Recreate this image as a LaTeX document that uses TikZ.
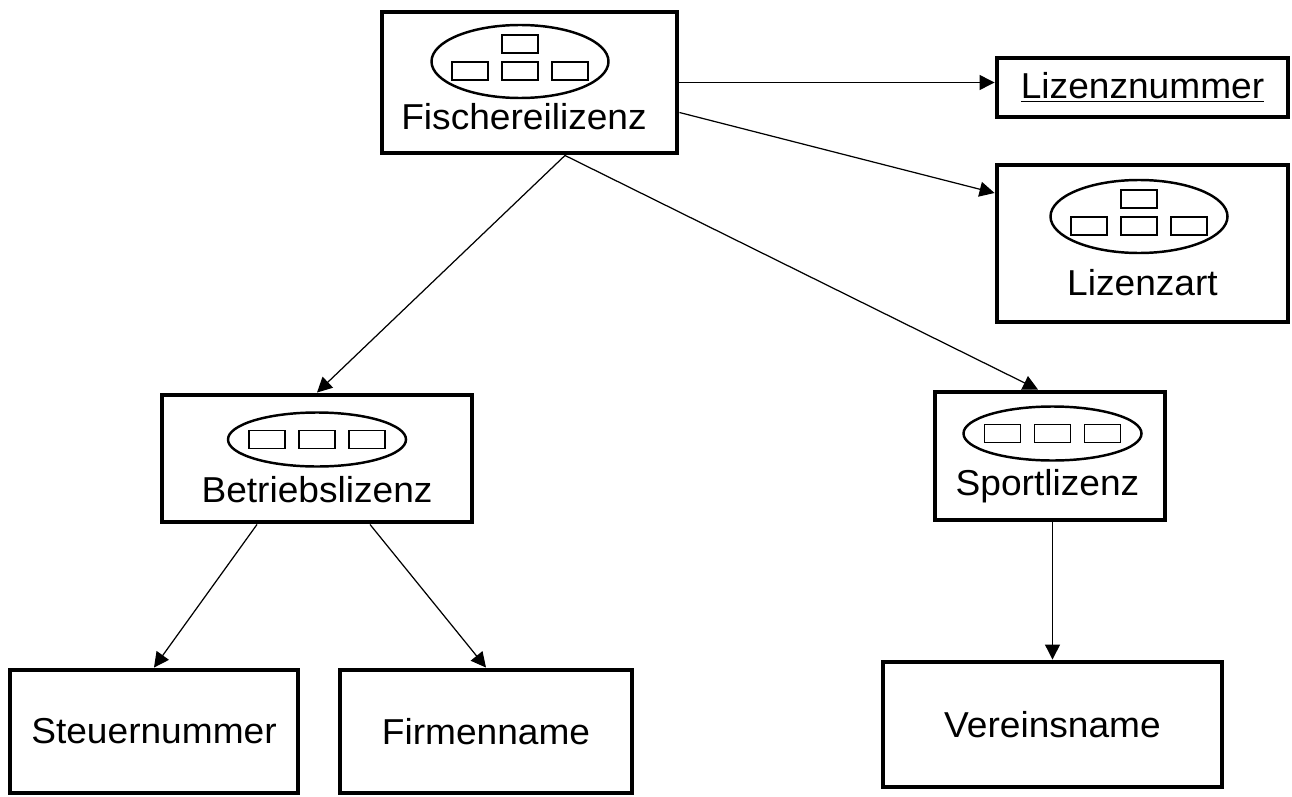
\documentclass[tikz,border=0pt]{standalone}
\usepackage{fontspec}
\setmainfont[FakeStretch=1.03]{Liberation Sans}
\usetikzlibrary{arrows.meta}
\tikzset{
  box/.style={draw, line width=2.8pt, inner sep=0pt},
  arr/.style={-{Triangle[length=0.3cm,width=0.3cm]}, line width=0.7pt},
  icon3/.pic={
    \draw[line width=1.4pt] (0,0) ellipse (1.78 and 0.54);
    \foreach \x in {-1,0,1}
      \draw[line width=0.8pt] (\x-0.36,-0.18) rectangle (\x+0.36,0.18);
  },
  icon4/.pic={
    \draw[line width=1.4pt] (0,0) ellipse (1.77 and 0.73);
    \draw[line width=0.8pt] (-0.36,0.17) rectangle (0.36,0.53);
    \foreach \x in {-1,0,1}
      \draw[line width=0.8pt] (\x-0.36,-0.37) rectangle (\x+0.36,-0.01);
  },
}
\begin{document}
\begin{tikzpicture}[font=\fontsize{20.5}{24}\selectfont]
\useasboundingbox (0,0) rectangle (25.84,15.92);
% Obertyp
\node[box, minimum width=5.9cm, minimum height=2.82cm] (fisch) at (10.59,14.27) {};
\pic at ([xshift=-0.19cm,yshift=0.42cm]fisch.center) {icon4};
\node[anchor=base] (fischlbl) at ([xshift=-0.11cm,yshift=-0.95cm]fisch.center) {Fischereilizenz};
% Attribute
\node[box, minimum width=5.82cm, minimum height=1.18cm] (lnr) at (22.85,14.17) {\underline{Lizenznummer}};
\node[box, minimum width=5.82cm, minimum height=3.14cm] (lart) at (22.85,11.05) {};
\pic at ([xshift=-0.07cm,yshift=0.54cm]lart.center) {icon4};
\node[anchor=base] (lartlbl) at ([yshift=-1.03cm]lart.center) {Lizenzart};
% Untertypen
\node[box, minimum width=6.2cm, minimum height=2.54cm] (betrieb) at (6.34,6.75) {};
\pic at ([yshift=0.38cm]betrieb.center) {icon3};
\node[anchor=base] (betrieblbl) at ([yshift=-0.87cm]betrieb.center) {Betriebslizenz};
\node[box, minimum width=4.6cm, minimum height=2.56cm] (sport) at (21.0,6.8) {};
\pic at ([xshift=0.05cm,yshift=0.45cm]sport.center) {icon3};
\node[anchor=base] (sportlbl) at ([xshift=-0.05cm,yshift=-0.78cm]sport.center) {Sportlizenz};
% untere Ebene
\node[box, minimum width=5.76cm, minimum height=2.46cm] (steuer) at (3.08,1.29) {Steuernummer};
\node[box, minimum width=5.84cm, minimum height=2.46cm] (firma) at (9.72,1.29) {Firmenname};
\node[box, minimum width=6.78cm, minimum height=2.5cm] (vereins) at (21.05,1.43) {Vereinsname};
% Pfeile
\draw[arr] (fisch.east) -- (fisch.east -| lnr.west);
\draw[arr] ([yshift=-0.6cm]fisch.east) -- ([yshift=1.01cm]lart.west);
\draw[arr] ([xshift=0.71cm]fisch.south) -- (betrieb.north);
\draw[arr] ([xshift=0.71cm]fisch.south) -- ([xshift=-0.24cm]sport.north);
\draw[arr] ([xshift=-1.2cm]betrieb.south) -- (steuer.north);
\draw[arr] ([xshift=1.06cm]betrieb.south) -- (firma.north);
\draw[arr] (vereins.north |- sport.south) -- (vereins.north);
\end{tikzpicture}
\end{document}
